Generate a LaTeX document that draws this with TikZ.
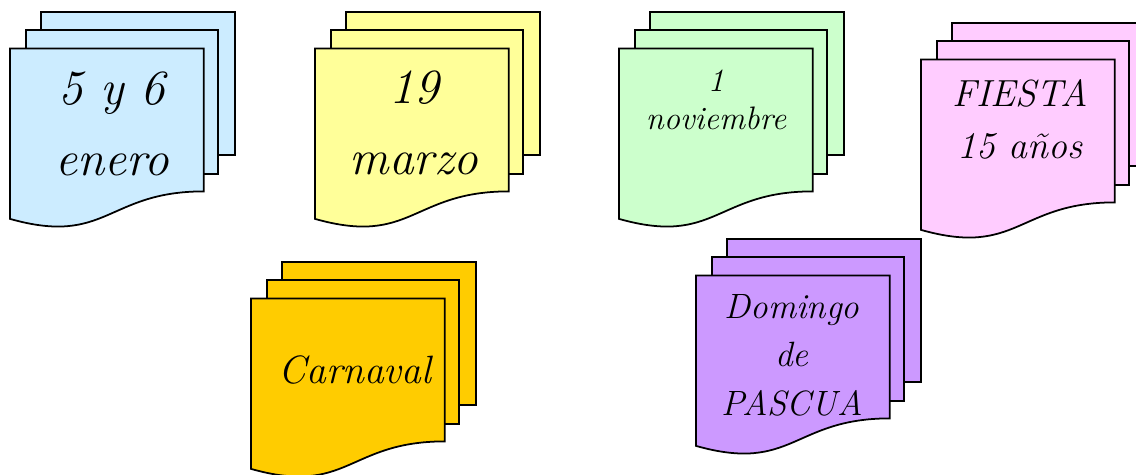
\documentclass[tikz,border=0pt]{standalone}
\usepackage{fontspec}
\usepackage{xcolor}
\usepackage{tikz}
\usetikzlibrary{positioning}
\definecolor{docblue}{RGB}{204,236,255}
\definecolor{docyellow}{RGB}{255,255,153}
\definecolor{docgreen}{RGB}{204,255,204}
\definecolor{docpink}{RGB}{255,204,255}
\definecolor{docorange}{RGB}{255,204,0}
\definecolor{docpurple}{RGB}{204,153,255}
\tikzset{
  sheet/.style={draw=black, line width=1pt, line join=miter},
  pics/multidoc/.style={code={
    \path[sheet, fill=#1] (31,0) rectangle (225,143.3);
    \path[sheet, fill=#1] (16,18.1) rectangle (208.3,161.8);
    \path[sheet, fill=#1] (0,206.9) .. controls (96.9,234.3) and (96.9,179.4) .. (193.7,179.4)
      -- (193.7,36.6) -- (0,36.6) -- cycle;
  }},
  doctext/.style={align=center, font=\itshape}
}

\begin{document}
\begin{tikzpicture}[x=0.02cm, y=-0.02cm]
  \useasboundingbox (0,0) rectangle (1136,475);

  % --- 5 Y 6 ENERO ---
  \pic at (10,12) {multidoc=docblue};
  \node[doctext, font=\itshape\fontsize{28}{40}\selectfont] (enero) at (112,124) {5 y 6\\enero};

  % --- 19 MARZO ---
  \pic at (315,12) {multidoc=docyellow};
  \node[doctext, font=\itshape\fontsize{28}{40}\selectfont] (marzo) at (414,123) {19\\marzo};

  % --- 1 NOVIEMBRE ---
  \pic at (619,12) {multidoc=docgreen};
  \node[doctext, font=\itshape\fontsize{18.5}{21.6}\selectfont] (noviembre) at (716,100) {1\\noviembre};

  % --- FIESTA 15 ANOS ---
  \pic at (921,23) {multidoc=docpink};
  \node[doctext, font=\itshape\fontsize{21.5}{29.6}\selectfont] (fiesta) at (1020,119) {FIESTA\\15 años};

  % --- CARNAVAL ---
  \pic at (251,262) {multidoc=docorange};
  \node[doctext, font=\itshape\fontsize{22.5}{27}\selectfont] (carnaval) at (355,370) {Carnaval};

  % --- DOMINGO DE PASCUA ---
  \pic at (696,239) {multidoc=docpurple};
  \node[doctext, font=\itshape\fontsize{20}{27.6}\selectfont] (pascua) at (792,355) {Domingo\\de\\PASCUA};
\end{tikzpicture}
\end{document}
